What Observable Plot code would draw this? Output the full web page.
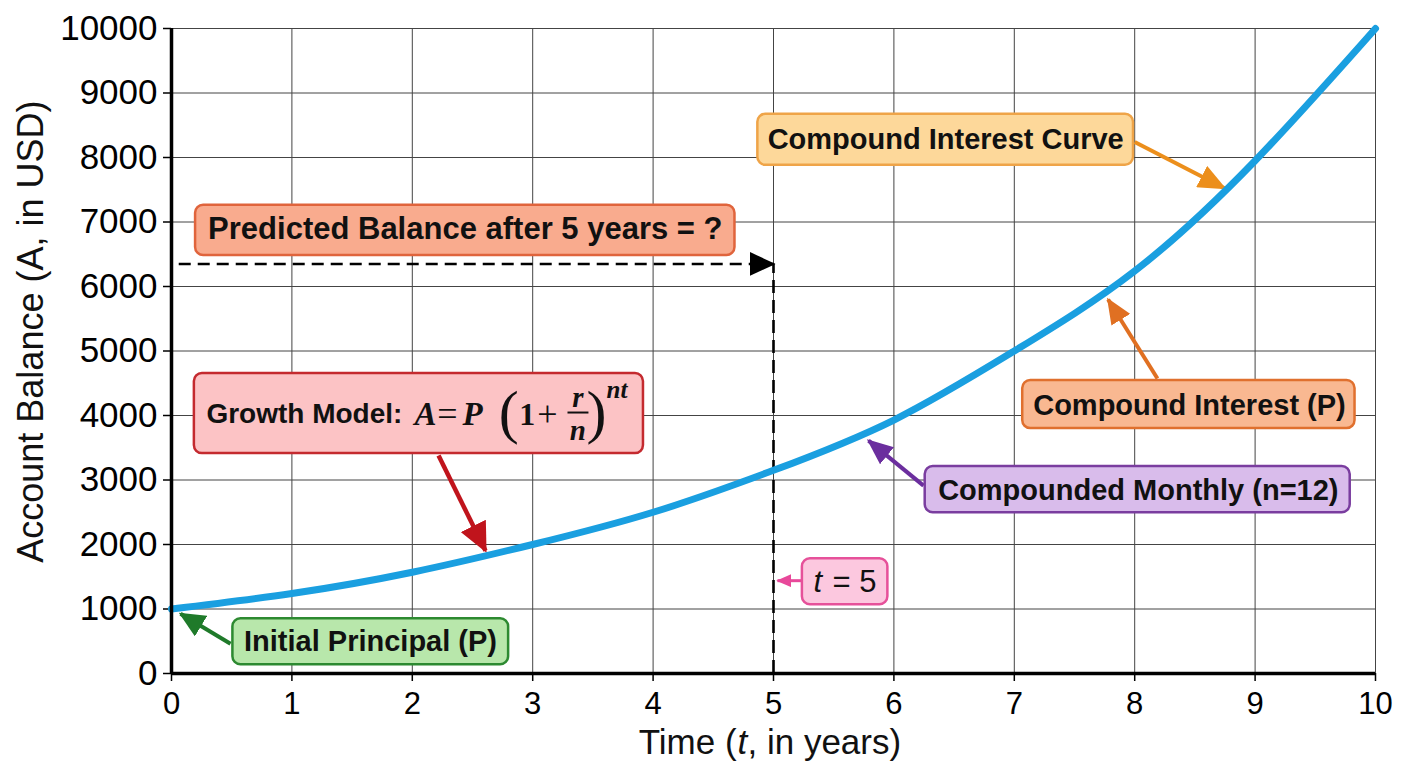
<!DOCTYPE html>
<html>
<head>
<meta charset="utf-8">
<script src="https://cdn.jsdelivr.net/npm/d3@7"></script>
<script src="https://cdn.jsdelivr.net/npm/@observablehq/plot@0.6"></script>
<style>
  html, body { margin: 0; padding: 0; background: #fff; }
  #chart svg { display: block; }
</style>
</head>
<body>
<div id="chart"></div>
<script>
// ---- data ----
const years = [0, 1, 2, 3, 4, 5, 6, 7, 8, 9, 10];
const balances = [1000, 1240, 1570, 2000, 2500, 3150, 3930, 5000, 6240, 7950, 10000];
const xTicks = [0, 1, 2, 3, 4, 5, 6, 7, 8, 9, 10];
const yTicks = [0, 1000, 2000, 3000, 4000, 5000, 6000, 7000, 8000, 9000, 10000];
const predictedYear = 5;
const predictedBalance = 6350;
const dashStartYear = 0.06;

// annotation boxes (data coordinates)
const boxes = [
  {x1: 0.20, x2: 4.68, y1: 6480, y2: 7258, fill: "#f9ab8e", stroke: "#e0643c"},
  {x1: 4.87, x2: 7.99, y1: 7879, y2: 8670, fill: "#fdd89a", stroke: "#efa448"},
  {x1: 7.07, x2: 9.83, y1: 3797, y2: 4542, fill: "#f9b891", stroke: "#e0702e"},
  {x1: 6.26, x2: 9.79, y1: 2494, y2: 3208, fill: "#d9bceb", stroke: "#7a3d9f"},
  {x1: 5.24, x2: 5.95, y1: 1066, y2: 1780, fill: "#fcc8df", stroke: "#e6519a"},
  {x1: 0.51, x2: 2.80, y1: 135, y2: 849, fill: "#b8e7ab", stroke: "#2d8a31"},
  {x1: 0.19, x2: 3.92, y1: 3409, y2: 4651, fill: "#fcc3c5", stroke: "#c42a2f"}
];
const boxLabels = [
  {text: "Predicted Balance after 5 years = ?", x: 2.44, y: 6885, size: 31},
  {text: "Compound Interest Curve", x: 6.43, y: 8282, size: 29},
  {text: "Compound Interest (P)", x: 8.455, y: 4154, size: 29},
  {text: "Compounded Monthly (n=12)", x: 8.03, y: 2835, size: 29},
  {text: "Initial Principal (P)", x: 1.653, y: 492, size: 29}
];
const growthLabel = {text: "Growth Model:", x: 0.29, y: 4030, size: 28};
const formulaParts = [
  {text: "A", x: 2.110, y: 4015, size: 33, style: "italic", weight: "bold"},
  {text: "=", x: 2.292, y: 4015, size: 36, style: "normal", weight: "normal"},
  {text: "P", x: 2.500, y: 4015, size: 33, style: "italic", weight: "bold"},
  {text: "(", x: 2.800, y: 4046, size: 60, style: "normal", weight: "normal"},
  {text: "1", x: 2.955, y: 4015, size: 32, style: "normal", weight: "bold"},
  {text: "+", x: 3.123, y: 4015, size: 36, style: "normal", weight: "normal"},
  {text: "r", x: 3.375, y: 4270, size: 29, style: "italic", weight: "bold"},
  {text: "n", x: 3.375, y: 3760, size: 29, style: "italic", weight: "bold"},
  {text: ")", x: 3.530, y: 4046, size: 60, style: "normal", weight: "normal"},
  {text: "nt", x: 3.700, y: 4403, size: 25, style: "italic", weight: "bold"}
];
const fractionBar = [{x1: 3.289, x2: 3.463, y: 4046}];
const tLabelParts = [
  {text: "t", x: 5.332, y: 1423, style: "italic"},
  {text: "= 5", x: 5.49, y: 1423, style: "normal"}
];
const arrows = [
  {x1: 8.00, y1: 8240, x2: 8.746, y2: 7522, color: "#ec8f1c", width: 4, headLen: 28, headW: 24},
  {x1: 8.189, y1: 4573, x2: 7.779, y2: 5799, color: "#e07022", width: 4, headLen: 26, headW: 22},
  {x1: 6.246, y1: 2913, x2: 5.789, y2: 3611, color: "#6b2e9e", width: 4, headLen: 26, headW: 22},
  {x1: 5.233, y1: 1439, x2: 5.033, y2: 1439, color: "#e8489a", width: 3, headLen: 15, headW: 13},
  {x1: 0.490, y1: 461, x2: 0.075, y2: 926, color: "#1f7a2a", width: 4, headLen: 26, headW: 24},
  {x1: 2.218, y1: 3378, x2: 2.608, y2: 1904, color: "#c0141c", width: 4.5, headLen: 30, headW: 28}
];
const dashHead = {color: "#000", headLen: 26, headW: 24};
const xLabelParts = [
  {text: "Time (", x: 4.693, anchor: "end", style: "normal"},
  {text: "t", x: 4.702, anchor: "start", style: "italic"},
  {text: ", in years)", x: 4.784, anchor: "start", style: "normal"}
];
const yLabel = {text: "Account Balance (A, in USD)", x: -1.163, y: 5300};

const curve = years.map((t, i) => ({t, a: balances[i]}));
const sans = "Liberation Sans, Arial, Helvetica, sans-serif";
const serif = "Liberation Serif, DejaVu Serif, Times New Roman, serif";

const chart = Plot.plot({
  width: 1408,
  height: 768,
  marginLeft: 171,
  marginRight: 33,
  marginTop: 28,
  marginBottom: 95,
  x: {domain: [0, 10]},
  y: {domain: [0, 10000]},
  color: {type: "identity"},
  style: {fontFamily: sans, background: "white", overflow: "visible"},
  marks: [
    Plot.gridX(xTicks, {stroke: "#444", strokeOpacity: 1, strokeWidth: 1}),
    Plot.gridY(yTicks, {stroke: "#444", strokeOpacity: 1, strokeWidth: 1}),
    Plot.axisX(xTicks, {tickSize: 8, tickPadding: 10, fontSize: 31, label: null, tickFormat: d => String(d), stroke: "#000", strokeWidth: 1.5, fill: "#000"}),
    Plot.axisY(yTicks, {tickSize: 8, tickPadding: 6, fontSize: 35, label: null, tickFormat: d => String(d), stroke: "#000", strokeWidth: 1.5, fill: "#000"}),
    // dashed guides
    Plot.ruleX([predictedYear], {y1: 0, y2: predictedBalance, stroke: "#000", strokeWidth: 2.6, strokeDasharray: "13,7"}),
    Plot.link([{x1: dashStartYear, x2: predictedYear, y: predictedBalance}], {x1: "x1", x2: "x2", y1: "y", y2: "y", stroke: "#000", strokeWidth: 2.6, strokeDasharray: "12,7"}),
    // annotation arrows
    Plot.link(arrows, {x1: "x1", y1: "y1", x2: "x2", y2: "y2", stroke: "color", strokeWidth: d => d.width}),
    // main curve
    Plot.line(curve, {x: "t", y: "a", stroke: "#1a9fe0", strokeWidth: 7, curve: "natural", strokeLinecap: "round"}),
    // axis lines
    Plot.ruleX([0], {stroke: "#000", strokeWidth: 3.5}),
    Plot.ruleY([0], {stroke: "#000", strokeWidth: 3.5}),
    // boxes
    Plot.rect(boxes, {x1: "x1", x2: "x2", y1: "y1", y2: "y2", fill: "fill", stroke: "stroke", strokeWidth: 2.5, rx: 8}),
    ...boxLabels.map(b => Plot.text([b], {x: "x", y: "y", text: "text", fontSize: b.size, fontWeight: "bold", fill: "#111", textAnchor: "middle"})),
    Plot.text([growthLabel], {x: "x", y: "y", text: "text", fontSize: growthLabel.size, fontWeight: "bold", fill: "#111", textAnchor: "start"}),
    ...formulaParts.map(p => Plot.text([p], {x: "x", y: "y", text: "text", fontSize: p.size, fontStyle: p.style, fontWeight: p.weight, fontFamily: serif, fill: "#111", textAnchor: "middle"})),
    Plot.link(fractionBar, {x1: "x1", x2: "x2", y1: "y", y2: "y", stroke: "#111", strokeWidth: 2}),
    ...tLabelParts.map(p => Plot.text([p], {x: "x", y: "y", text: "text", fontSize: 31, fontStyle: p.style, fill: "#111", textAnchor: "start"})),
    // axis titles
    ...xLabelParts.map(p => Plot.text([p], {x: "x", y: () => 0, dy: 69, text: "text", fontSize: 35, fontStyle: p.style, fill: "#111", textAnchor: p.anchor})),
    Plot.text([yLabel], {x: "x", y: "y", text: "text", fontSize: 36, rotate: -90, fill: "#111", textAnchor: "middle"})
  ]
});

// filled arrowheads via SVG markers
const svg = d3.select(chart);
const defs = svg.append("defs");
const heads = [dashHead, ...arrows];
heads.forEach((h, i) => {
  defs.append("marker")
    .attr("id", "ah" + i)
    .attr("viewBox", "0 0 10 10")
    .attr("refX", 9.2)
    .attr("refY", 5)
    .attr("markerWidth", h.headLen)
    .attr("markerHeight", h.headW)
    .attr("markerUnits", "userSpaceOnUse")
    .attr("orient", "auto")
    .attr("preserveAspectRatio", "none")
    .append("path")
    .attr("d", "M0,0L10,5L0,10Z")
    .attr("fill", h.color);
});
const linkPaths = svg.selectAll('g[aria-label="link"] path').nodes();
linkPaths.forEach((p, i) => {
  if (i < heads.length) d3.select(p).attr("marker-end", `url(#ah${i})`);
});

document.getElementById("chart").appendChild(chart);
</script>
</body>
</html>
